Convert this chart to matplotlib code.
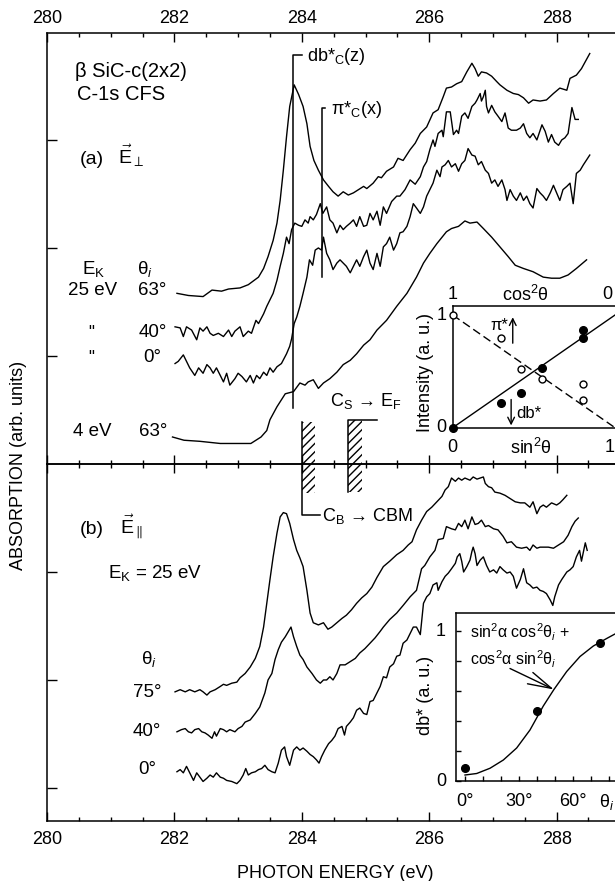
import matplotlib
matplotlib.use('Agg')
import matplotlib.pyplot as plt
from matplotlib.patches import Rectangle
from matplotlib.ticker import MultipleLocator

plt.rcParams['font.family'] = ['Liberation Sans', 'DejaVu Sans']
plt.rcParams['mathtext.fontset'] = 'custom'
plt.rcParams['mathtext.rm'] = 'Liberation Sans'
plt.rcParams['mathtext.it'] = 'Liberation Sans:italic'
plt.rcParams['mathtext.bf'] = 'Liberation Sans:bold'
plt.rcParams['font.size'] = 13
plt.rcParams['hatch.linewidth'] = 1.0

# (photon energy eV, absorption arb. units)
# panel (a), E perpendicular
perp_25ev_63 = [(282.04, 4.58), (282.22, 4.56), (282.45, 4.55), (282.59, 4.61), (282.74, 4.60),
                (282.85, 4.62), (283.03, 4.63), (283.16, 4.66), (283.32, 4.73), (283.40, 4.81),
                (283.47, 4.92), (283.55, 5.07), (283.61, 5.23), (283.66, 5.44), (283.71, 5.72),
                (283.76, 6.03), (283.81, 6.31), (283.88, 6.51), (283.95, 6.42), (284.02, 6.31),
                (284.08, 6.15), (284.13, 5.94), (284.19, 5.81), (284.26, 5.72), (284.34, 5.63),
                (284.42, 5.57), (284.49, 5.52), (284.57, 5.48), (284.65, 5.52), (284.73, 5.49),
                (284.81, 5.51), (284.97, 5.57), (285.02, 5.55), (285.12, 5.60), (285.20, 5.66),
                (285.25, 5.65), (285.33, 5.71), (285.44, 5.75), (285.51, 5.83), (285.59, 5.81),
                (285.70, 5.91), (285.78, 5.97), (285.86, 6.06), (285.96, 6.12), (286.06, 6.25),
                (286.14, 6.28), (286.22, 6.40), (286.27, 6.48), (286.35, 6.49), (286.43, 6.52),
                (286.51, 6.54), (286.59, 6.63), (286.67, 6.71), (286.72, 6.66), (286.77, 6.59),
                (286.82, 6.63), (286.90, 6.62), (286.98, 6.59), (287.06, 6.54), (287.11, 6.51),
                (287.22, 6.46), (287.32, 6.43), (287.40, 6.42), (287.48, 6.39), (287.56, 6.34),
                (287.63, 6.37), (287.74, 6.36), (287.84, 6.37), (287.95, 6.43), (288.05, 6.48),
                (288.16, 6.46), (288.21, 6.57), (288.31, 6.60), (288.39, 6.66), (288.52, 6.80)]

perp_25ev_40 = [(282.01, 4.27), (282.09, 4.26), (282.14, 4.18), (282.19, 4.27), (282.27, 4.24),
                (282.35, 4.15), (282.40, 4.26), (282.45, 4.23), (282.51, 4.27), (282.56, 4.21),
                (282.61, 4.19), (282.69, 4.21), (282.77, 4.18), (282.85, 4.24), (282.90, 4.18),
                (282.95, 4.23), (283.03, 4.27), (283.08, 4.18), (283.16, 4.23), (283.21, 4.21),
                (283.28, 4.33), (283.32, 4.30), (283.40, 4.39), (283.45, 4.46), (283.50, 4.52),
                (283.55, 4.58), (283.61, 4.70), (283.66, 4.83), (283.71, 4.95), (283.76, 5.10),
                (283.80, 5.04), (283.84, 5.17), (283.89, 5.23), (283.95, 5.21), (284.00, 5.20),
                (284.05, 5.26), (284.10, 5.23), (284.13, 5.29), (284.18, 5.26), (284.23, 5.31),
                (284.29, 5.41), (284.33, 5.32), (284.39, 5.38), (284.44, 5.26), (284.49, 5.23),
                (284.55, 5.14), (284.60, 5.21), (284.65, 5.17), (284.70, 5.20), (284.76, 5.23),
                (284.81, 5.26), (284.86, 5.20), (284.91, 5.29), (284.97, 5.20), (285.02, 5.21),
                (285.07, 5.32), (285.12, 5.26), (285.18, 5.34), (285.23, 5.21), (285.28, 5.38),
                (285.33, 5.32), (285.41, 5.43), (285.49, 5.48), (285.54, 5.48), (285.62, 5.54),
                (285.70, 5.63), (285.78, 5.59), (285.86, 5.66), (285.91, 5.75), (285.96, 5.80),
                (286.01, 5.91), (286.06, 6.00), (286.09, 5.94), (286.14, 6.06), (286.20, 6.09),
                (286.22, 6.03), (286.27, 6.26), (286.33, 6.26), (286.38, 6.05), (286.43, 6.09),
                (286.46, 6.06), (286.51, 6.22), (286.56, 6.25), (286.61, 6.20), (286.67, 6.31),
                (286.72, 6.34), (286.75, 6.37), (286.80, 6.43), (286.82, 6.36), (286.85, 6.40),
                (286.88, 6.46), (286.90, 6.31), (286.93, 6.25), (286.98, 6.32), (287.03, 6.26),
                (287.08, 6.22), (287.14, 6.17), (287.19, 6.25), (287.24, 6.11), (287.29, 6.09),
                (287.37, 6.09), (287.43, 6.11), (287.48, 6.15), (287.53, 6.06), (287.58, 6.02),
                (287.63, 6.06), (287.69, 6.00), (287.77, 6.14), (287.82, 6.08), (287.87, 5.98),
                (287.92, 6.05), (287.97, 5.98), (288.03, 5.95), (288.08, 6.00), (288.13, 6.02),
                (288.18, 6.06), (288.24, 6.30), (288.29, 6.19), (288.34, 6.19)]

perp_25ev_0 = [(282.01, 3.93), (282.06, 3.95), (282.14, 4.01), (282.19, 3.95), (282.24, 3.89),
               (282.32, 3.82), (282.38, 3.89), (282.45, 3.84), (282.51, 3.92), (282.56, 3.89),
               (282.61, 3.84), (282.66, 3.89), (282.72, 3.82), (282.77, 3.76), (282.82, 3.84),
               (282.87, 3.73), (282.95, 3.79), (283.00, 3.84), (283.06, 3.81), (283.13, 3.76),
               (283.19, 3.82), (283.24, 3.75), (283.29, 3.82), (283.34, 3.79), (283.40, 3.85),
               (283.45, 3.82), (283.50, 3.89), (283.55, 3.85), (283.61, 3.90), (283.68, 3.93),
               (283.76, 4.02), (283.81, 4.09), (283.84, 4.16), (283.88, 4.30), (283.92, 4.36),
               (283.97, 4.46), (284.02, 4.58), (284.08, 4.73), (284.12, 4.89), (284.17, 4.84),
               (284.21, 4.98), (284.26, 5.00), (284.31, 4.98), (284.34, 5.10), (284.39, 4.95),
               (284.44, 4.89), (284.49, 4.80), (284.55, 4.86), (284.60, 4.89), (284.65, 4.86),
               (284.70, 4.83), (284.76, 4.77), (284.81, 4.83), (284.86, 4.89), (284.91, 4.83),
               (284.97, 4.92), (285.02, 4.98), (285.07, 4.86), (285.12, 4.80), (285.18, 4.95),
               (285.23, 4.83), (285.28, 5.01), (285.33, 5.04), (285.38, 5.10), (285.44, 4.98),
               (285.49, 5.04), (285.54, 5.14), (285.59, 5.15), (285.65, 5.20), (285.70, 5.29),
               (285.75, 5.41), (285.80, 5.37), (285.86, 5.32), (285.91, 5.38), (285.96, 5.48),
               (286.01, 5.54), (286.06, 5.60), (286.12, 5.72), (286.17, 5.66), (286.20, 5.75),
               (286.25, 5.77), (286.30, 5.81), (286.35, 5.75), (286.41, 5.78), (286.46, 5.71),
               (286.51, 5.78), (286.56, 5.81), (286.61, 5.92), (286.67, 5.86), (286.72, 5.85),
               (286.77, 5.77), (286.82, 5.80), (286.88, 5.72), (286.93, 5.69), (286.98, 5.60),
               (287.03, 5.63), (287.08, 5.57), (287.14, 5.63), (287.19, 5.54), (287.22, 5.44),
               (287.27, 5.54), (287.32, 5.48), (287.37, 5.44), (287.43, 5.51), (287.48, 5.44),
               (287.53, 5.48), (287.58, 5.41), (287.63, 5.37), (287.69, 5.55), (287.74, 5.51),
               (287.79, 5.48), (287.84, 5.44), (287.90, 5.51), (287.95, 5.58), (288.00, 5.51),
               (288.05, 5.44), (288.10, 5.54), (288.16, 5.57), (288.21, 5.60), (288.26, 5.41),
               (288.31, 5.69), (288.37, 5.72), (288.42, 5.77), (288.52, 5.86)]

perp_4ev_63 = [(281.97, 3.25), (282.15, 3.22), (282.40, 3.21), (282.72, 3.19), (282.95, 3.19),
               (283.20, 3.19), (283.36, 3.25), (283.45, 3.31), (283.50, 3.41), (283.61, 3.53),
               (283.74, 3.65), (283.87, 3.67), (283.97, 3.75), (284.05, 3.73), (284.10, 3.76),
               (284.18, 3.78), (284.26, 3.70), (284.34, 3.75), (284.44, 3.79), (284.55, 3.85),
               (284.65, 3.92), (284.76, 3.96), (284.86, 4.02), (284.97, 4.10), (285.07, 4.15),
               (285.18, 4.24), (285.33, 4.33), (285.49, 4.46), (285.65, 4.58), (285.80, 4.73),
               (285.91, 4.86), (286.01, 4.95), (286.12, 5.04), (286.27, 5.15), (286.35, 5.18),
               (286.46, 5.20), (286.56, 5.25), (286.64, 5.23), (286.75, 5.24), (286.85, 5.18),
               (286.98, 5.10), (287.11, 5.01), (287.24, 4.92), (287.35, 4.84), (287.48, 4.81),
               (287.63, 4.78), (287.79, 4.73), (287.92, 4.72), (288.05, 4.72), (288.18, 4.75),
               (288.31, 4.81), (288.47, 4.89)]

# panel (b), E parallel, E_K = 25 eV
par_75 = [(282.01, 0.89), (282.09, 0.91), (282.17, 0.89), (282.24, 0.91), (282.32, 0.89),
          (282.40, 0.91), (282.45, 0.89), (282.51, 0.86), (282.56, 0.89), (282.64, 0.91),
          (282.72, 0.94), (282.77, 0.96), (282.82, 0.95), (282.90, 0.97), (282.98, 0.98),
          (283.03, 1.02), (283.11, 1.06), (283.19, 1.12), (283.27, 1.20), (283.34, 1.31),
          (283.40, 1.49), (283.45, 1.71), (283.50, 1.93), (283.55, 2.14), (283.61, 2.36),
          (283.66, 2.51), (283.71, 2.55), (283.76, 2.54), (283.81, 2.45), (283.87, 2.30),
          (283.92, 2.20), (283.97, 2.13), (284.02, 2.05), (284.08, 1.83), (284.13, 1.62),
          (284.18, 1.53), (284.26, 1.51), (284.34, 1.53), (284.41, 1.47), (284.47, 1.49),
          (284.55, 1.53), (284.63, 1.57), (284.70, 1.60), (284.78, 1.65), (284.86, 1.71),
          (284.94, 1.76), (285.02, 1.80), (285.10, 1.86), (285.18, 1.95), (285.28, 2.05),
          (285.38, 2.10), (285.49, 2.16), (285.59, 2.20), (285.67, 2.25), (285.73, 2.28),
          (285.80, 2.39), (285.88, 2.48), (285.96, 2.56), (286.04, 2.60), (286.12, 2.65),
          (286.20, 2.70), (286.25, 2.76), (286.30, 2.79), (286.35, 2.87), (286.41, 2.84),
          (286.46, 2.87), (286.51, 2.85), (286.56, 2.87), (286.64, 2.85), (286.69, 2.88),
          (286.75, 2.86), (286.80, 2.87), (286.85, 2.88), (286.88, 2.82), (286.93, 2.79),
          (286.98, 2.78), (287.03, 2.74), (287.11, 2.73), (287.19, 2.71), (287.27, 2.68),
          (287.35, 2.65), (287.43, 2.64), (287.50, 2.64), (287.58, 2.60), (287.63, 2.65),
          (287.69, 2.54), (287.74, 2.60), (287.79, 2.62), (287.84, 2.60), (287.92, 2.64),
          (288.00, 2.62), (288.05, 2.64), (288.10, 2.67), (288.16, 2.71)]

par_40 = [(282.04, 0.52), (282.11, 0.54), (282.17, 0.55), (282.22, 0.52), (282.27, 0.51),
          (282.32, 0.54), (282.38, 0.55), (282.43, 0.52), (282.48, 0.51), (282.53, 0.49),
          (282.59, 0.46), (282.63, 0.52), (282.66, 0.48), (282.72, 0.55), (282.77, 0.54),
          (282.82, 0.52), (282.87, 0.54), (282.95, 0.52), (283.00, 0.55), (283.06, 0.57),
          (283.11, 0.61), (283.19, 0.63), (283.27, 0.69), (283.34, 0.75), (283.42, 0.88),
          (283.47, 1.00), (283.53, 1.06), (283.58, 1.19), (283.63, 1.28), (283.68, 1.35),
          (283.74, 1.40), (283.79, 1.45), (283.83, 1.49), (283.87, 1.40), (283.92, 1.31),
          (283.97, 1.23), (284.02, 1.19), (284.08, 1.12), (284.16, 1.06), (284.23, 1.00),
          (284.29, 0.97), (284.34, 1.00), (284.39, 1.00), (284.44, 1.03), (284.49, 1.00),
          (284.55, 1.06), (284.60, 1.14), (284.68, 1.14), (284.76, 1.17), (284.84, 1.20),
          (284.91, 1.25), (284.99, 1.29), (285.07, 1.34), (285.15, 1.39), (285.23, 1.45),
          (285.28, 1.49), (285.38, 1.56), (285.49, 1.62), (285.59, 1.69), (285.70, 1.77),
          (285.80, 1.83), (285.88, 2.03), (285.93, 2.06), (286.01, 2.14), (286.09, 2.20),
          (286.14, 2.30), (286.22, 2.31), (286.27, 2.42), (286.35, 2.40), (286.41, 2.39),
          (286.46, 2.45), (286.51, 2.42), (286.56, 2.48), (286.61, 2.40), (286.67, 2.51),
          (286.72, 2.44), (286.77, 2.45), (286.82, 2.48), (286.88, 2.42), (286.93, 2.43),
          (287.01, 2.40), (287.08, 2.39), (287.16, 2.33), (287.22, 2.27), (287.29, 2.28),
          (287.37, 2.23), (287.45, 2.22), (287.53, 2.23), (287.58, 2.20), (287.63, 2.25),
          (287.69, 2.22), (287.74, 2.23), (287.79, 2.23), (287.87, 2.23), (287.95, 2.22),
          (288.03, 2.25), (288.11, 2.28), (288.18, 2.34), (288.24, 2.42), (288.29, 2.47),
          (288.34, 2.50)]

par_0 = [(282.04, 0.15), (282.09, 0.17), (282.14, 0.14), (282.19, 0.20), (282.24, 0.14),
         (282.30, 0.07), (282.35, 0.14), (282.40, 0.10), (282.45, 0.06), (282.51, 0.09),
         (282.56, 0.12), (282.61, 0.10), (282.66, 0.14), (282.72, 0.10), (282.77, 0.09),
         (282.82, 0.07), (282.90, 0.06), (282.98, 0.04), (283.03, 0.07), (283.08, 0.12),
         (283.12, 0.18), (283.16, 0.12), (283.21, 0.14), (283.27, 0.15), (283.32, 0.17),
         (283.37, 0.18), (283.42, 0.21), (283.47, 0.17), (283.53, 0.15), (283.58, 0.14),
         (283.63, 0.23), (283.68, 0.35), (283.73, 0.38), (283.76, 0.29), (283.81, 0.21),
         (283.87, 0.35), (283.92, 0.38), (283.97, 0.35), (284.02, 0.37), (284.08, 0.34),
         (284.13, 0.31), (284.18, 0.29), (284.23, 0.26), (284.27, 0.23), (284.31, 0.29),
         (284.36, 0.35), (284.42, 0.41), (284.47, 0.44), (284.52, 0.48), (284.57, 0.55),
         (284.63, 0.57), (284.67, 0.49), (284.70, 0.57), (284.76, 0.61), (284.81, 0.65),
         (284.86, 0.72), (284.91, 0.74), (284.97, 0.69), (285.02, 0.68), (285.07, 0.80),
         (285.12, 0.81), (285.18, 0.88), (285.23, 0.94), (285.28, 1.03), (285.33, 1.02),
         (285.38, 1.12), (285.44, 1.15), (285.49, 1.22), (285.54, 1.23), (285.59, 1.34),
         (285.65, 1.37), (285.70, 1.43), (285.75, 1.49), (285.80, 1.49), (285.86, 1.42),
         (285.91, 1.71), (285.96, 1.77), (286.01, 1.80), (286.06, 1.88), (286.12, 1.90),
         (286.14, 1.83), (286.20, 1.91), (286.25, 1.96), (286.30, 1.99), (286.35, 2.03),
         (286.41, 2.08), (286.44, 2.14), (286.48, 2.17), (286.51, 2.10), (286.54, 2.00),
         (286.59, 2.05), (286.64, 2.11), (286.67, 2.19), (286.69, 2.23), (286.72, 2.17),
         (286.75, 2.06), (286.80, 2.11), (286.85, 2.14), (286.90, 2.06), (286.95, 2.00),
         (287.01, 2.02), (287.06, 1.99), (287.11, 2.05), (287.16, 2.02), (287.22, 1.99),
         (287.27, 2.00), (287.32, 1.96), (287.37, 1.85), (287.43, 1.93), (287.48, 2.03),
         (287.53, 1.90), (287.58, 1.88), (287.63, 1.85), (287.69, 1.86), (287.74, 1.83),
         (287.79, 1.82), (287.84, 1.80), (287.90, 1.74), (287.94, 1.69), (287.97, 1.77),
         (288.03, 1.88), (288.08, 1.93), (288.16, 2.00), (288.21, 2.02), (288.26, 2.05),
         (288.31, 2.14), (288.36, 2.20), (288.39, 2.10), (288.45, 2.27), (288.48, 2.20)]

# resonance positions (eV)
db_energy = 283.86
pi_energy = 284.32
cb_edge = 284.0
cs_edge = 284.72

# inset (a): intensity vs sin^2(theta)
sin2 = [0.0, 0.30, 0.42, 0.55, 0.80, 0.80]
pi_int = [1.0, 0.80, 0.52, 0.43, 0.39, 0.25]
db_int = [0.0, 0.22, 0.31, 0.53, 0.80, 0.87]
line_x = [0.0, 1.0]
db_line = [0.0, 1.0]
pi_line = [1.0, 0.0]

# inset (b): db* vs theta_i
theta_pts = [0, 40, 75]
db_pts = [0.085, 0.47, 0.92]
fit_theta = [0, 6.5, 13.9, 21.3, 28.7, 36.1, 43.5, 49.4, 56.5, 63.9, 71.3, 78.7, 83.3, 90]
fit_db = [0.04, 0.05, 0.085, 0.14, 0.22, 0.34, 0.50, 0.61, 0.73, 0.83, 0.90, 0.95, 0.98, 1.0]

W, H = 615, 881
fig = plt.figure(figsize=(W / 100, H / 100), dpi=100)


def box(left, top, right, bottom):
    return [left / W, 1 - bottom / H, (right - left) / W, (bottom - top) / H]


def fxy(px, py):
    return px / W, 1 - py / H


ax_top = fig.add_axes(box(47, 33, 626.7, 464))
ax_bot = fig.add_axes(box(47, 464, 626.7, 821))

for ax in (ax_top, ax_bot):
    ax.set_facecolor('none')
    ax.set_xlim(280, 289.1)
    ax.set_xticks(range(280, 289, 2))
    ax.xaxis.set_minor_locator(MultipleLocator(0.5))
    ax.tick_params(axis='x', which='major', direction='in', length=6.5, width=1,
                   top=True, bottom=True, labelsize=13)
    ax.tick_params(axis='x', which='minor', direction='in', length=3.2, width=1,
                   top=True, bottom=True)
    ax.tick_params(axis='y', direction='in', length=7.5, width=1, labelleft=False)
    ax.spines['right'].set_visible(False)
    for s in ax.spines.values():
        s.set_linewidth(1.1)

ax_top.set_ylim(3.0, 6.99)
ax_bot.set_ylim(-0.306, 3.0)
ax_top.set_yticks([4, 5, 6])
ax_bot.set_yticks([0, 1, 2])
ax_top.tick_params(axis='x', which='both', labeltop=True, labelbottom=False, pad=4.5)
ax_bot.tick_params(axis='x', which='both', labeltop=False, labelbottom=True, pad=7.5)

for pts in (perp_25ev_63, perp_25ev_40, perp_25ev_0, perp_4ev_63):
    e, y = zip(*pts)
    ax_top.plot(e, y, color='black', lw=1.0)
for pts in (par_75, par_40, par_0):
    e, y = zip(*pts)
    ax_bot.plot(e, y, color='black', lw=1.0)

# resonance markers
ax_top.plot([db_energy, db_energy, cb_edge], [3.52, 6.79, 6.79], color='black', lw=1.1)
ax_top.text(284.08, 6.77, r'db*$_{\mathrm{C}}$(z)', ha='left', va='center', fontsize=13)
ax_top.plot([pi_energy, pi_energy, 284.37], [4.73, 6.30, 6.30], color='black', lw=1.1)
ax_top.text(284.46, 6.28, r'π*$_{\mathrm{C}}$(x)', ha='left', va='center', fontsize=13)

# band edges
ax_top.add_patch(Rectangle((cb_edge, 2.73), 0.21, 0.66, fill=False, hatch='////', lw=0,
                           edgecolor='black', clip_on=False))
ax_top.plot([cb_edge, cb_edge, 284.29], [3.39, 2.53, 2.53], color='black', lw=1.1, clip_on=False)
ax_top.text(284.31, 2.52, r'C$_{\mathrm{B}}$ → CBM', ha='left', va='center', fontsize=13)
ax_top.add_patch(Rectangle((cs_edge, 2.74), 0.22, 0.67, fill=False, hatch='////', lw=0,
                           edgecolor='black', clip_on=False))
ax_top.plot([cs_edge, cs_edge, 285.18], [2.74, 3.41, 3.41], color='black', lw=1.1, clip_on=False)
ax_top.text(285.0, 3.58, r'C$_{\mathrm{S}}$ → E$_{\mathrm{F}}$', ha='center', va='center', fontsize=13)

# panel (a) labels
ax_top.text(280.44, 6.63, 'β SiC-c(2x2)', ha='left', va='center', fontsize=14.5)
ax_top.text(280.47, 6.42, 'C-1s CFS', ha='left', va='center', fontsize=14.5)
ax_top.text(280.52, 5.78, '(a)', ha='left', va='baseline', fontsize=14)
ax_top.text(281.11, 5.78, r'$\vec{\mathrm{E}}_{\perp}$', ha='left', va='baseline', fontsize=14)
ax_top.text(280.55, 4.76, r'E$_{\mathrm{K}}$', ha='left', va='baseline', fontsize=13.5)
ax_top.text(281.41, 4.76, r'θ$_{i}$', ha='left', va='baseline', fontsize=13.5)
ax_top.text(280.71, 4.61, '25 eV', ha='center', va='center', fontsize=13.5)
ax_top.text(281.65, 4.61, '63°', ha='center', va='center', fontsize=13.5)
ax_top.text(280.69, 4.22, '"', ha='center', va='center', fontsize=12)
ax_top.text(281.66, 4.22, '40°', ha='center', va='center', fontsize=13.5)
ax_top.text(280.69, 3.99, '"', ha='center', va='center', fontsize=12)
ax_top.text(281.65, 3.99, '0°', ha='center', va='center', fontsize=13.5)
ax_top.text(280.71, 3.30, '4 eV', ha='center', va='center', fontsize=13.5)
ax_top.text(281.66, 3.30, '63°', ha='center', va='center', fontsize=13.5)

# panel (b) labels
ax_bot.text(280.52, 2.35, '(b)', ha='left', va='baseline', fontsize=14)
ax_bot.text(281.15, 2.35, r'$\vec{\mathrm{E}}_{\parallel}$', ha='left', va='baseline', fontsize=14)
ax_bot.text(280.96, 1.94, r'E$_{\mathrm{K}}$ = 25 eV', ha='left', va='baseline', fontsize=13.5)
ax_bot.text(281.60, 1.15, r'θ$_{i}$', ha='center', va='baseline', fontsize=13.5)
ax_bot.text(281.57, 0.88, '75°', ha='center', va='center', fontsize=13.5)
ax_bot.text(281.57, 0.52, '40°', ha='center', va='center', fontsize=13.5)
ax_bot.text(281.58, 0.17, '0°', ha='center', va='center', fontsize=13.5)

fig.text(*fxy(19, 465), 'ABSORPTION (arb. units)', rotation=90, ha='center', va='center', fontsize=13)
fig.text(*fxy(335, 873), 'PHOTON ENERGY (eV)', ha='center', va='center', fontsize=13)

# inset (a)
ax_a = fig.add_axes(box(452.7, 306, 621.5, 427.7))
ax_a.set_xlim(0, 1.04)
ax_a.set_ylim(0, 1.08)
ax_a.set_xticks([])
ax_a.set_yticks([])
ax_a.spines['right'].set_visible(False)
for s in ax_a.spines.values():
    s.set_linewidth(1.1)
ax_a.plot(line_x, db_line, color='black', lw=1.0)
ax_a.plot(line_x, pi_line, color='black', lw=1.0, ls=(0, (6, 3)))
ax_a.plot(sin2, db_int, 'o', ms=5.5, color='black', clip_on=False, zorder=5)
ax_a.plot(sin2, pi_int, 'o', ms=5, mfc='white', mec='black', mew=1, clip_on=False, zorder=5)
ax_a.annotate('', xy=(0.37, 0.98), xytext=(0.37, 0.75),
              arrowprops=dict(arrowstyle='->', lw=1, color='black', shrinkA=0, shrinkB=0,
                              mutation_scale=12))
ax_a.annotate('', xy=(0.36, 0.02), xytext=(0.36, 0.25),
              arrowprops=dict(arrowstyle='->', lw=1, color='black', shrinkA=0, shrinkB=0,
                              mutation_scale=12))
ax_a.text(0.285, 0.91, 'π*', ha='center', va='center', fontsize=12)
ax_a.text(0.39, 0.13, 'db*', ha='left', va='center', fontsize=12)
ax_a.text(-0.04, 1.0, '1', ha='right', va='center', fontsize=13)
ax_a.text(-0.04, 0.0, '0', ha='right', va='center', fontsize=13)
ax_a.text(0.0, 1.18, '1', ha='center', va='center', fontsize=13)
ax_a.text(0.445, 1.18, r'cos$^2$θ', ha='center', va='center', fontsize=13)
ax_a.text(0.955, 1.18, '0', ha='center', va='center', fontsize=13)
ax_a.text(0.0, -0.18, '0', ha='center', va='center', fontsize=13)
ax_a.text(0.48, -0.18, r'sin$^2$θ', ha='center', va='center', fontsize=13)
ax_a.text(0.965, -0.18, '1', ha='center', va='center', fontsize=13)
fig.text(*fxy(425, 372), 'Intensity (a. u.)', rotation=90, ha='center', va='center', fontsize=13)

# inset (b)
ax_b = fig.add_axes(box(456, 612.7, 636, 781))
ax_b.set_xlim(-5, 95)
ax_b.set_ylim(0, 1.122)
ax_b.set_xticks(range(0, 91, 10))
ax_b.set_yticks([0, 0.2, 0.4, 0.6, 0.8, 1.0])
ax_b.tick_params(direction='in', length=3.5, width=1, labelbottom=False, labelleft=False)
ax_b.spines['right'].set_visible(False)
for s in ax_b.spines.values():
    s.set_linewidth(1.1)
ax_b.plot(fit_theta, fit_db, color='black', lw=1.0)
ax_b.plot(theta_pts, db_pts, 'o', ms=5.5, color='black', clip_on=False, zorder=5)
ax_b.text(-13.3, 1.0, '1', ha='center', va='center', fontsize=13)
ax_b.text(-12.9, 0.0, '0', ha='center', va='center', fontsize=13)
for t, lab in ((0, '0°'), (30, '30°'), (60, '60°')):
    ax_b.text(t, -0.138, lab, ha='center', va='center', fontsize=13)
ax_b.text(78.7, -0.138, r'θ$_{i}$', ha='center', va='center', fontsize=13)
ax_b.text(2.8, 0.99, r'sin$^2$α cos$^2$θ$_{i}$ +', ha='left', va='center', fontsize=11.5)
ax_b.text(2.8, 0.81, r'cos$^2$α sin$^2$θ$_{i}$', ha='left', va='center', fontsize=11.5)
ax_b.annotate('', xy=(49.4, 0.61), xytext=(25, 0.75),
              arrowprops=dict(arrowstyle='->,head_length=1.7,head_width=0.45', lw=1,
                              color='black', shrinkA=0, shrinkB=0, mutation_scale=10))
fig.text(*fxy(425, 695), 'db* (a. u.)', rotation=90, ha='center', va='center', fontsize=13)

fig.savefig('out.png', dpi=100, facecolor='white')
